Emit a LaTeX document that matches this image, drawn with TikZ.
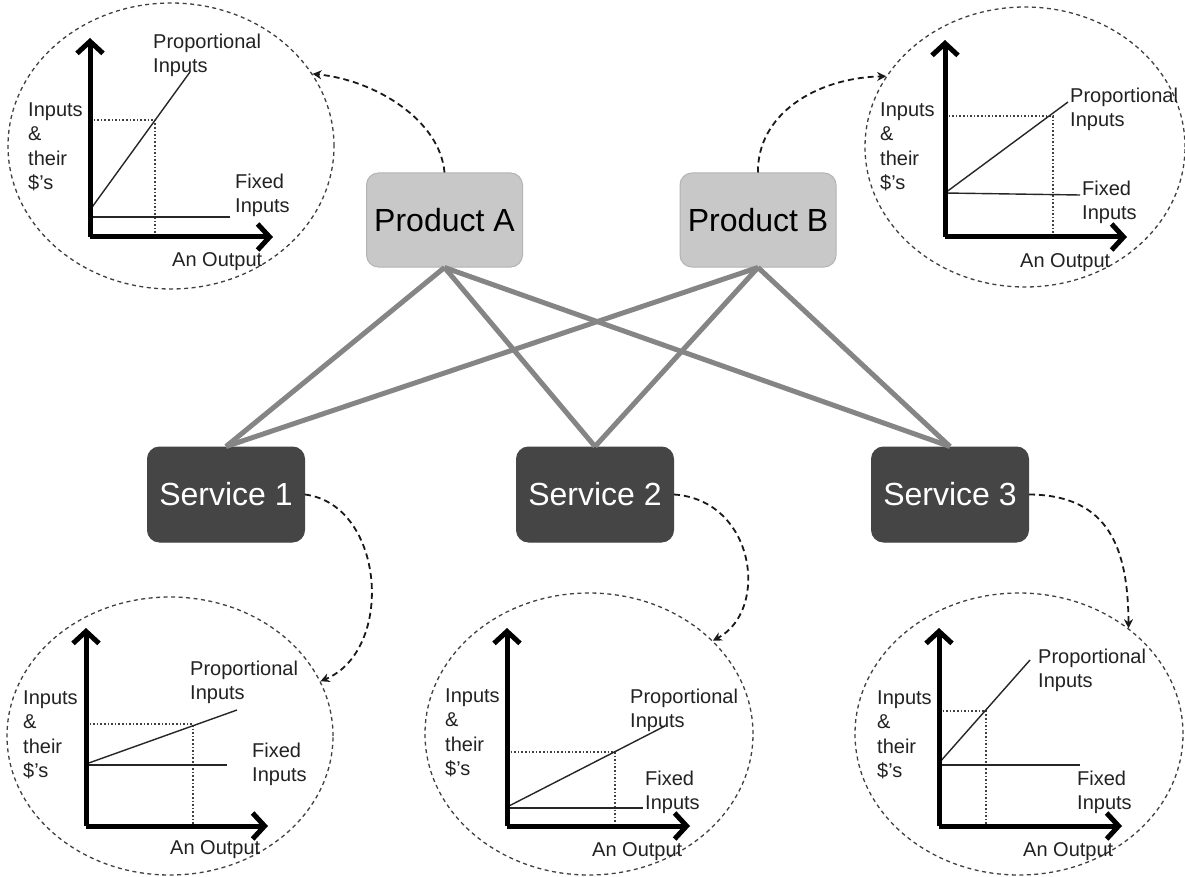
\documentclass[tikz,border=0pt]{standalone}
\usepackage{fontspec}
\setmainfont{Liberation Sans}
\usetikzlibrary{arrows.meta,shapes.geometric}
\definecolor{prodfill}{HTML}{C8C8C8}
\definecolor{prodline}{HTML}{B4B4B4}
\definecolor{servfill}{HTML}{454545}
\definecolor{linkgray}{HTML}{858585}
\definecolor{txt}{HTML}{222222}
\tikzset{
  prodbox/.style={draw=prodline, line width=1pt, fill=prodfill, rounded corners=12pt,
    minimum width=156pt, minimum height=94pt, inner sep=0pt,
    font=\fontsize{32}{36}\selectfont, text=black},
  servbox/.style={draw=servfill, line width=1pt, fill=servfill, rounded corners=12pt,
    minimum width=157pt, minimum height=95pt, inner sep=0pt,
    font=\fontsize{32}{36}\selectfont, text=white},
  link/.style={draw=linkgray, line width=5pt},
  dellipse/.style={ellipse, draw=black!75, line width=1.3pt, dash pattern=on 4pt off 3.5pt,
    inner sep=0pt},
  callout/.style={draw=black!90, line width=1.8pt, dash pattern=on 6pt off 4pt,
    -{Stealth[length=9pt,width=9pt]}},
  axis/.style={draw=black, line width=5pt, -{Straight Barb[length=12pt,width=26pt]}},
  curve/.style={draw=black!85, line width=1.4pt},
  guide/.style={draw=black!75, line width=1.6pt, dash pattern=on 1.6pt off 2pt},
  lbl/.style={anchor=north west, inner sep=0pt, align=left, text=txt,
    font=\fontsize{20}{24.5}\selectfont},
}
\begin{document}
\begin{tikzpicture}[x=1pt,y=-1pt]
\useasboundingbox[fill=white] (0,0) rectangle (1185,877);

% ---------- ellipses ----------
\node[dellipse, minimum width=326pt, minimum height=286pt] (e1) at (171,146) {};
\node[dellipse, minimum width=320pt, minimum height=280pt] (e2) at (1025,147) {};
\node[dellipse, minimum width=326pt, minimum height=278pt] (e3) at (170,736) {};
\node[dellipse, minimum width=328pt, minimum height=282pt] (e4) at (589,734) {};
\node[dellipse, minimum width=328pt, minimum height=282pt] (e5) at (1019,734) {};

% ---------- boxes ----------
\node[prodbox] (pa) at (444.5,220) {Product A};
\node[prodbox] (pb) at (758,220) {Product B};
\node[servbox] (s1) at (226,494.5) {Service 1};
\node[servbox] (s2) at (595,494.5) {Service 2};
\node[servbox] (s3) at (950,494.5) {Service 3};

% ---------- links ----------
\draw[link] (pa.south) -- (s1.north);
\draw[link] (pa.south) -- (s2.north);
\draw[link] (pa.south) -- (s3.north);
\draw[link] (pb.south) -- (s1.north);
\draw[link] (pb.south) -- (s2.north);
\draw[link] (pb.south) -- (s3.north);

% ---------- callouts ----------
\draw[callout] (pa.north) .. controls (440,120) and (375,80) .. (e1.27);
\draw[callout] (pb.north) .. controls (757,115) and (815,78) .. (e2.153);
\draw[callout] (s1.east) .. controls (385,505) and (395,650) .. (e3.20);
\draw[callout] (s2.east) .. controls (755,500) and (770,610) .. (e4.37);
\draw[callout] (s3.east) .. controls (1110,495) and (1128,550) .. (e5.44);

% ---------- chart 1 (top left) ----------
\coordinate (o1) at (90,237);
\draw[guide] (90,120) -- (155,120) -- (155,237);
\draw[curve] (90,210) -- (190,72);
\draw[curve] (90,217) -- (230,217);
\draw[axis] (o1) -- (90,38);
\draw[axis] (o1) -- (273,237);
\node[lbl] (p1) at (153,33.5) {Proportional\\Inputs};
\node[lbl] (i1) at (28,102.5) {Inputs\\\&\\their\\\$'s};
\node[lbl] (f1) at (235,173.5) {Fixed\\Inputs};
\node[lbl] (a1) at (172,252.5) {An Output};

% ---------- chart 2 (top right) ----------
\coordinate (o2) at (945,237);
\draw[guide] (945,116) -- (1053,116) -- (1053,237);
\draw[curve] (945,193) -- (1068,102);
\draw[curve] (945,193) -- (1080,195);
\draw[axis] (o2) -- (945,40);
\draw[axis] (o2) -- (1127,237);
\node[lbl] (p2) at (1070,87.5) {Proportional\\Inputs};
\node[lbl] (i2) at (880,102.5) {Inputs\\\&\\their\\\$'s};
\node[lbl] (f2) at (1082,180.5) {Fixed\\Inputs};
\node[lbl] (a2) at (1020,253.5) {An Output};

% ---------- chart 3 (bottom left) ----------
\coordinate (o3) at (86,826);
\draw[guide] (86,724) -- (193,724) -- (193,826);
\draw[curve] (86,764) -- (237,710);
\draw[curve] (86,765) -- (227,765);
\draw[axis] (o3) -- (86,628);
\draw[axis] (o3) -- (268,826);
\node[lbl] (p3) at (190,660.5) {Proportional\\Inputs};
\node[lbl] (i3) at (23,690.5) {Inputs\\\&\\their\\\$'s};
\node[lbl] (f3) at (252,742.5) {Fixed\\Inputs};
\node[lbl] (a3) at (170,840.5) {An Output};

% ---------- chart 4 (bottom middle) ----------
\coordinate (o4) at (507,826);
\draw[guide] (507,752) -- (615,752) -- (615,826);
\draw[curve] (507,807) -- (665,726);
\draw[curve] (507,808) -- (643,808);
\draw[axis] (o4) -- (507,628);
\draw[axis] (o4) -- (690,826);
\node[lbl] (p4) at (630,688.5) {Proportional\\Inputs};
\node[lbl] (i4) at (445,688.5) {Inputs\\\&\\their\\\$'s};
\node[lbl] (f4) at (645,770.5) {Fixed\\Inputs};
\node[lbl] (a4) at (592,842.5) {An Output};

% ---------- chart 5 (bottom right) ----------
\coordinate (o5) at (939,826);
\draw[guide] (939,711) -- (986,711) -- (986,826);
\draw[curve] (939,763) -- (1030,660);
\draw[curve] (939,765) -- (1080,765);
\draw[axis] (o5) -- (939,628);
\draw[axis] (o5) -- (1122,826);
\node[lbl] (p5) at (1038,648.5) {Proportional\\Inputs};
\node[lbl] (i5) at (877,690.5) {Inputs\\\&\\their\\\$'s};
\node[lbl] (f5) at (1077,770.5) {Fixed\\Inputs};
\node[lbl] (a5) at (1023,842.5) {An Output};
\end{tikzpicture}
\end{document}
